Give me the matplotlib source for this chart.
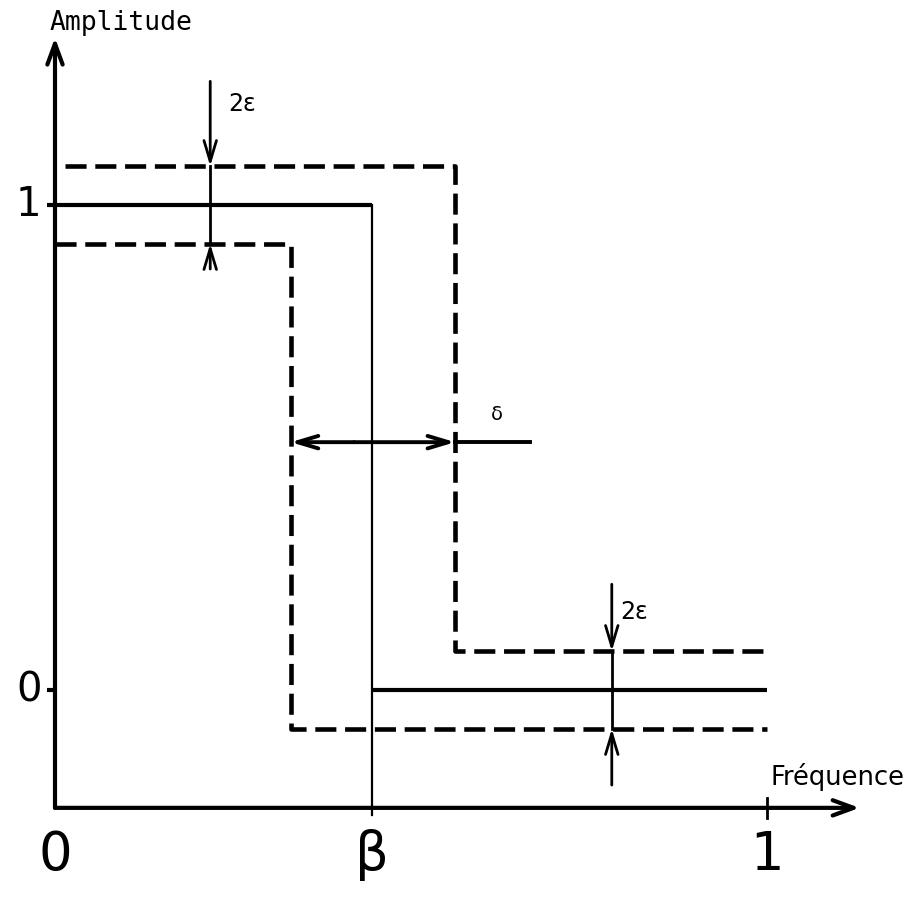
import matplotlib
matplotlib.use("Agg")
import matplotlib.pyplot as plt

# ---- data (diagram values, normalized frequency / amplitude) ----
beta = 0.445           # ideal cut-off frequency
eps = 0.08             # tolerance half-width (2ε band)
edge_low = 0.331       # lower tolerance transition
edge_high = 0.562      # upper tolerance transition
x_ticks = [0, beta, 1]
x_tick_labels = ["0", "β", "1"]
y_ticks = [0, 1]
y_tick_labels = ["0", "1"]
eps_arrow_x = [0.218, 0.782]
delta_y = 0.511

fig = plt.figure(figsize=(9.19, 9.06), dpi=100)
ax = fig.add_axes([0, 0, 1, 1])
ax.set_xlim(-55 / 712, 864 / 712)
ax.set_ylim(-216 / 485, 690 / 485)
ax.axis("off")

k = "black"
axis_y = -0.243
# axes
ax.annotate("", xy=(0, 1.345), xytext=(0, axis_y), xycoords="data",
            arrowprops=dict(arrowstyle="->,head_length=1.5,head_width=0.55", lw=3, color=k,
                            shrinkA=0, shrinkB=0))
ax.annotate("", xy=(1.13, axis_y), xytext=(0, axis_y),
            arrowprops=dict(arrowstyle="->,head_length=1.5,head_width=0.55", lw=3, color=k,
                            shrinkA=0, shrinkB=0))

# ideal response (solid)
ax.plot([-0.011, beta], [1, 1], color=k, lw=3, solid_capstyle="butt")
ax.plot([beta, beta], [1, axis_y - 0.015], color=k, lw=1.6)
ax.plot([beta, 1], [0, 0], color=k, lw=3, solid_capstyle="butt")
ax.plot([-0.011, 0], [0, 0], color=k, lw=3, solid_capstyle="butt")
ax.plot([1, 1], [axis_y - 0.02, axis_y + 0.02], color=k, lw=2)

# tolerance bounds (dashed)
dash = dict(color=k, lw=3.3, dashes=(4.6, 1.9), solid_capstyle="butt", dash_capstyle="butt")
ax.plot([0.014, edge_high, edge_high, 1], [1 + eps, 1 + eps, eps, eps], **dash)
ax.plot([0, edge_low, edge_low, 1], [1 - eps, 1 - eps, -eps, -eps], **dash)

# 2ε arrows
arr = dict(arrowstyle="->,head_length=1.5,head_width=0.45", lw=2, color=k, shrinkA=0, shrinkB=0)
for xa, top, bot, lo, hi in [(eps_arrow_x[0], 1.255, 0.868, 1 - eps, 1 + eps),
                             (eps_arrow_x[1], 0.218, -0.196, -eps, eps)]:
    ax.annotate("", xy=(xa, hi), xytext=(xa, top), arrowprops=arr)
    ax.annotate("", xy=(xa, lo), xytext=(xa, bot), arrowprops=arr)
    ax.plot([xa, xa], [hi, lo], color=k, lw=2)

ax.text(eps_arrow_x[0] + 0.025, 1.208, "2ε", fontsize=17, ha="left", va="center")
ax.text(eps_arrow_x[1] + 0.012, 0.161, "2ε", fontsize=17, ha="left", va="center")

# δ arrow
harr = dict(arrowstyle="->,head_length=1.5,head_width=0.45", lw=2.8, color=k,
            shrinkA=0, shrinkB=0)
ax.annotate("", xy=(edge_low, delta_y), xytext=(0.42, delta_y), arrowprops=harr)
ax.annotate("", xy=(edge_high, delta_y), xytext=(0.42, delta_y), arrowprops=harr)
ax.plot([edge_high, 0.667], [delta_y, delta_y], color=k, lw=2.8)
ax.text(0.62, 0.568, "δ", fontsize=14, ha="center", va="center")

# tick labels
for xv, lab in zip(x_ticks, x_tick_labels):
    ax.text(xv, -0.34, lab, fontsize=38, ha="center", va="center", family="DejaVu Sans")
for yv, lab in zip(y_ticks, y_tick_labels):
    ax.text(-0.037, yv, lab, fontsize=29, ha="center", va="center", family="DejaVu Sans")

# axis titles
ax.text(-0.008, 1.375, "Amplitude", fontsize=19, ha="left", va="center",
        family="DejaVu Sans Mono")
ax.text(1.005, axis_y + 0.035, "Fréquence", fontsize=18.5, ha="left", va="bottom",
        family="DejaVu Sans")

fig.savefig("out.png", dpi=100, facecolor="white")
